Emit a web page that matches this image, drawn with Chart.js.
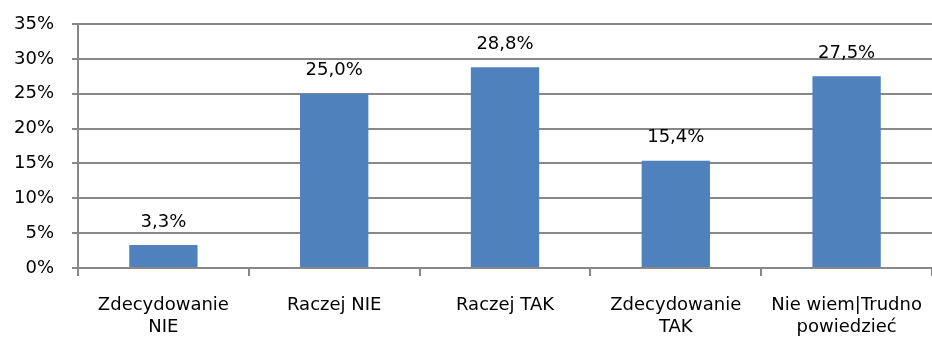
<!DOCTYPE html>
<html>
<head>
<meta charset="utf-8">
<script src="https://cdn.jsdelivr.net/npm/chart.js@4/dist/chart.umd.min.js"></script>
<style>
  html, body { margin: 0; padding: 0; background: #fff; }
  #wrap { width: 932px; height: 340px; }
</style>
</head>
<body>
<div id="wrap"><canvas id="chart" width="932" height="340"></canvas></div>
<script>
const categories = [
  ['Zdecydowanie', 'NIE'],
  'Raczej NIE',
  'Raczej TAK',
  ['Zdecydowanie', 'TAK'],
  ['Nie wiem|Trudno', 'powiedzieć']
];
const shares = [3.3, 25.0, 28.8, 15.4, 27.5];
const yTicks = [0, 5, 10, 15, 20, 25, 30, 35];

const FONT = '"DejaVu Sans", sans-serif';
const GRID = '#888888';

// value labels above each bar, Polish decimal comma
const barLabels = {
  id: 'barLabels',
  afterDatasetsDraw(chart) {
    const ctx = chart.ctx;
    const meta = chart.getDatasetMeta(0);
    ctx.save();
    ctx.font = '18px ' + FONT;
    ctx.fillStyle = '#000';
    ctx.textAlign = 'center';
    ctx.textBaseline = 'middle';
    meta.data.forEach((bar, i) => {
      const txt = shares[i].toFixed(1).replace('.', ',') + '%';
      ctx.fillText(txt, bar.x, bar.y - 23);
    });
    ctx.restore();
  }
};

new Chart(document.getElementById('chart'), {
  type: 'bar',
  data: {
    labels: categories,
    datasets: [{
      data: shares,
      backgroundColor: '#4f81bd',
      categoryPercentage: 1,
      barPercentage: 0.4
    }]
  },
  options: {
    responsive: false,
    animation: false,
    layout: { padding: { top: 24, right: 0 } },
    plugins: { legend: { display: false }, tooltip: { enabled: false } },
    scales: {
      x: {
        offset: true,
        grid: {
          offset: true,
          drawOnChartArea: false,
          drawTicks: true,
          tickLength: 8,
          color: GRID,
          lineWidth: 2
        },
        border: { color: GRID, width: 2 },
        ticks: {
          color: '#000',
          font: { family: FONT, size: 18, lineHeight: 1.22 },
          maxRotation: 0,
          autoSkip: false,
          padding: 18
        },
        afterFit(scale) {
          scale.height = 72;
          // let the last label run to the canvas edge instead of shrinking the plot
          scale.paddingLeft = 0;
          scale.paddingRight = 0;
        }
      },
      y: {
        min: 0,
        max: 35,
        afterBuildTicks(scale) { scale.ticks = yTicks.map(v => ({ value: v })); },
        grid: { color: GRID, lineWidth: 2, tickLength: 6 },
        border: { color: GRID, width: 2 },
        ticks: {
          color: '#000',
          font: { family: FONT, size: 18 },
          padding: 18,
          callback: v => v + '%'
        },
        afterFit(scale) {
          scale.width = 78;
          scale.paddingTop = 0;
          scale.paddingBottom = 0;
        }
      }
    }
  },
  plugins: [barLabels]
});
</script>
</body>
</html>
